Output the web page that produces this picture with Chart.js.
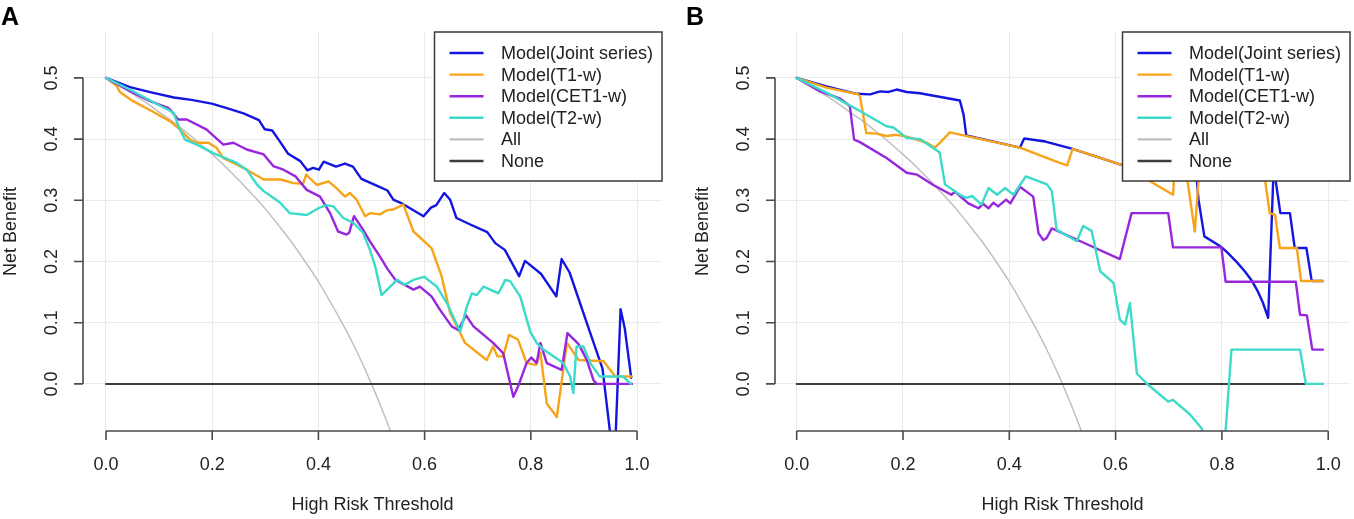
<!DOCTYPE html>
<html>
<head>
<meta charset="utf-8">
<title>Decision curves</title>
<script src="https://cdn.jsdelivr.net/npm/chart.js@4.4.1/dist/chart.umd.min.js"></script>
<style>
  html, body { margin: 0; padding: 0; background: #fff; }
  #wrap { position: relative; width: 1354px; height: 519px; }
  .panel { position: absolute; top: 0; width: 677px; height: 519px; }
</style>
</head>
<body>
<div id="wrap">
  <div class="panel" style="left:0"><canvas id="chartA" width="677" height="519"></canvas></div>
  <div class="panel" style="left:677px"><canvas id="chartB" width="677" height="519"></canvas></div>
</div>
<script>
// axis ticks
var xTicks = [0, 0.2, 0.4, 0.6, 0.8, 1.0];
var xTickLabels = ['0.0', '0.2', '0.4', '0.6', '0.8', '1.0'];
var yTicks = [0, 0.1, 0.2, 0.3, 0.4, 0.5];
var yTickLabels = ['0.0', '0.1', '0.2', '0.3', '0.4', '0.5'];

// legend entries
var seriesNames = ['Model(Joint series)', 'Model(T1-w)', 'Model(CET1-w)', 'Model(T2-w)', 'All', 'None'];
var seriesColors = ['#1416e0', '#f7a41a', '#9726dc', '#3cdac9', '#bebebe', '#3c3c3c'];

// reference curves (same in both panels)
var allCurve = [[0, 0.5], [0.025, 0.487], [0.05, 0.474], [0.075, 0.460], [0.1, 0.444], [0.125, 0.429],
  [0.15, 0.412], [0.175, 0.394], [0.2, 0.375], [0.225, 0.355], [0.25, 0.333], [0.275, 0.310],
  [0.3, 0.286], [0.325, 0.259], [0.35, 0.231], [0.375, 0.200], [0.4, 0.167], [0.425, 0.130],
  [0.45, 0.091], [0.475, 0.048], [0.5, 0.0], [0.525, -0.053], [0.55, -0.111]];
var noneCurve = [[0, 0], [0.99, 0]];

// panel A: [threshold, net benefit]
var jointA = [[0, 0.5], [0.045, 0.485], [0.087, 0.476], [0.128, 0.468], [0.161, 0.464], [0.199, 0.458],
  [0.226, 0.451], [0.259, 0.442], [0.288, 0.431], [0.299, 0.416], [0.313, 0.414], [0.326, 0.398],
  [0.343, 0.376], [0.366, 0.364], [0.379, 0.349], [0.39, 0.353], [0.401, 0.350], [0.41, 0.363],
  [0.433, 0.355], [0.45, 0.360], [0.465, 0.355], [0.481, 0.335], [0.515, 0.322], [0.53, 0.316],
  [0.541, 0.301], [0.559, 0.294], [0.598, 0.274], [0.612, 0.288], [0.622, 0.292], [0.637, 0.312],
  [0.648, 0.301], [0.66, 0.271], [0.687, 0.260], [0.718, 0.248], [0.733, 0.230], [0.751, 0.219],
  [0.778, 0.176], [0.789, 0.201], [0.819, 0.180], [0.848, 0.143], [0.858, 0.204], [0.873, 0.182],
  [0.91, 0.088], [0.935, 0.025], [0.952, -0.1], [0.959, -0.1], [0.969, 0.122], [0.977, 0.090],
  [0.989, 0.010]];
var t1A = [[0, 0.5], [0.02, 0.487], [0.026, 0.477], [0.051, 0.462], [0.086, 0.446], [0.121, 0.429],
  [0.139, 0.416], [0.158, 0.399], [0.171, 0.394], [0.193, 0.394], [0.208, 0.386], [0.221, 0.369],
  [0.240, 0.361], [0.265, 0.350], [0.297, 0.334], [0.329, 0.334], [0.353, 0.328], [0.371, 0.327],
  [0.377, 0.342], [0.397, 0.325], [0.419, 0.331], [0.434, 0.320], [0.45, 0.306], [0.459, 0.312],
  [0.472, 0.301], [0.488, 0.274], [0.497, 0.279], [0.516, 0.277], [0.53, 0.284], [0.541, 0.285],
  [0.56, 0.293], [0.579, 0.249], [0.613, 0.222], [0.632, 0.176], [0.648, 0.116], [0.67, 0.078],
  [0.676, 0.067], [0.717, 0.039], [0.729, 0.061], [0.737, 0.045], [0.748, 0.045], [0.759, 0.080],
  [0.776, 0.072], [0.792, 0.034], [0.81, 0.031], [0.818, 0.051], [0.83, -0.032], [0.849, -0.054],
  [0.868, 0.067], [0.89, 0.039], [0.937, 0.037], [0.959, 0.012], [0.99, 0.012]];
var cet1A = [[0, 0.5], [0.051, 0.476], [0.083, 0.462], [0.117, 0.451], [0.123, 0.446], [0.136, 0.432],
  [0.152, 0.432], [0.189, 0.416], [0.221, 0.391], [0.24, 0.394], [0.265, 0.383], [0.297, 0.375],
  [0.315, 0.356], [0.334, 0.350], [0.357, 0.339], [0.378, 0.317], [0.403, 0.306], [0.422, 0.279],
  [0.437, 0.249], [0.453, 0.244], [0.458, 0.247], [0.467, 0.274], [0.484, 0.252], [0.497, 0.233],
  [0.516, 0.208], [0.53, 0.188], [0.545, 0.170], [0.56, 0.163], [0.579, 0.154], [0.591, 0.159],
  [0.613, 0.143], [0.629, 0.121], [0.651, 0.094], [0.663, 0.088], [0.678, 0.112], [0.692, 0.094],
  [0.729, 0.067], [0.748, 0.050], [0.767, -0.021], [0.776, -0.004], [0.792, 0.034], [0.801, 0.043],
  [0.811, 0.034], [0.818, 0.067], [0.83, 0.034], [0.858, 0.023], [0.869, 0.083], [0.89, 0.065],
  [0.905, 0.040], [0.918, 0.006], [0.924, 0], [0.99, 0]];
var t2A = [[0, 0.5], [0.045, 0.481], [0.092, 0.459], [0.117, 0.448], [0.127, 0.443], [0.139, 0.416],
  [0.149, 0.399], [0.171, 0.391], [0.202, 0.377], [0.246, 0.361], [0.265, 0.350], [0.284, 0.326],
  [0.297, 0.315], [0.315, 0.304], [0.328, 0.296], [0.346, 0.279], [0.378, 0.276], [0.400, 0.287],
  [0.415, 0.292], [0.428, 0.290], [0.447, 0.271], [0.466, 0.263], [0.484, 0.247], [0.497, 0.219],
  [0.507, 0.192], [0.519, 0.145], [0.548, 0.170], [0.563, 0.162], [0.579, 0.170], [0.599, 0.175],
  [0.623, 0.159], [0.642, 0.132], [0.667, 0.085], [0.679, 0.125], [0.689, 0.148], [0.698, 0.145],
  [0.711, 0.159], [0.739, 0.148], [0.752, 0.170], [0.761, 0.168], [0.78, 0.143], [0.799, 0.085],
  [0.811, 0.067], [0.824, 0.056], [0.861, 0.034], [0.874, 0.012], [0.88, -0.015], [0.886, 0.061],
  [0.899, 0.061], [0.912, 0.034], [0.93, 0.012], [0.974, 0.012], [0.988, 0]];

// panel B
var jointB = [[0, 0.5], [0.056, 0.486], [0.113, 0.474], [0.138, 0.473], [0.157, 0.478], [0.173, 0.477],
  [0.188, 0.481], [0.207, 0.477], [0.232, 0.475], [0.263, 0.470], [0.307, 0.463], [0.314, 0.440],
  [0.319, 0.406], [0.42, 0.386], [0.428, 0.401], [0.468, 0.396], [0.519, 0.384], [0.614, 0.357],
  [0.65, 0.36], [0.75, 0.36], [0.756, 0.301], [0.767, 0.241], [0.797, 0.225], [0.81, 0.215],
  [0.828, 0.199], [0.843, 0.184], [0.856, 0.169], [0.867, 0.152], [0.877, 0.133], [0.887, 0.108],
  [0.897, 0.345], [0.899, 0.345], [0.910, 0.279], [0.928, 0.279], [0.937, 0.222], [0.959, 0.222],
  [0.969, 0.168], [0.99, 0.168]];
var t1B = [[0, 0.5], [0.056, 0.484], [0.116, 0.473], [0.119, 0.470], [0.131, 0.410], [0.150, 0.409],
  [0.169, 0.405], [0.188, 0.407], [0.207, 0.404], [0.245, 0.394], [0.260, 0.386], [0.273, 0.397],
  [0.288, 0.411], [0.314, 0.406], [0.42, 0.386], [0.495, 0.361], [0.509, 0.357], [0.519, 0.384],
  [0.614, 0.357], [0.708, 0.309], [0.711, 0.35], [0.733, 0.345], [0.749, 0.249], [0.757, 0.345],
  [0.88, 0.34], [0.89, 0.279], [0.9, 0.276], [0.909, 0.222], [0.941, 0.222], [0.949, 0.168],
  [0.99, 0.168]];
var cet1B = [[0, 0.5], [0.044, 0.478], [0.082, 0.466], [0.100, 0.454], [0.108, 0.399], [0.119, 0.395],
  [0.169, 0.369], [0.207, 0.345], [0.226, 0.342], [0.257, 0.325], [0.291, 0.309], [0.298, 0.314],
  [0.323, 0.295], [0.342, 0.287], [0.351, 0.294], [0.361, 0.287], [0.370, 0.296], [0.379, 0.290],
  [0.394, 0.301], [0.402, 0.295], [0.420, 0.322], [0.445, 0.306], [0.455, 0.246], [0.464, 0.235],
  [0.470, 0.238], [0.480, 0.254], [0.539, 0.231], [0.608, 0.204], [0.630, 0.279], [0.699, 0.279],
  [0.708, 0.223], [0.799, 0.223], [0.807, 0.167], [0.939, 0.167], [0.947, 0.113], [0.960, 0.112],
  [0.970, 0.056], [0.99, 0.056]];
var t2B = [[0, 0.5], [0.056, 0.476], [0.119, 0.446], [0.169, 0.421], [0.182, 0.419], [0.207, 0.402],
  [0.232, 0.400], [0.269, 0.378], [0.279, 0.326], [0.307, 0.309], [0.320, 0.304], [0.330, 0.307],
  [0.348, 0.293], [0.361, 0.320], [0.377, 0.309], [0.392, 0.320], [0.408, 0.309], [0.431, 0.339],
  [0.471, 0.326], [0.480, 0.315], [0.489, 0.252], [0.527, 0.233], [0.539, 0.258], [0.555, 0.250],
  [0.571, 0.184], [0.596, 0.165], [0.608, 0.105], [0.618, 0.097], [0.627, 0.132], [0.640, 0.017],
  [0.658, 0.001], [0.699, -0.029], [0.708, -0.026], [0.740, -0.050], [0.762, -0.073], [0.775, -0.1],
  [0.805, -0.1], [0.818, 0.056], [0.947, 0.056], [0.958, 0], [0.99, 0]];

var FONT = "'Liberation Sans', Arial, Helvetica, sans-serif";

function toPoints(arr) {
  return arr.map(function (p) { return { x: p[0], y: p[1] }; });
}

// R-like axes, labels and legend box drawn on top of the Chart.js grid
function rStyle(cfg) {
  return {
    id: 'rStyle',
    afterDraw: function (chart) {
      var ctx = chart.ctx;
      var xs = chart.scales.x, ys = chart.scales.y;
      var area = chart.chartArea;
      ctx.save();
      ctx.strokeStyle = '#4a4a4a';
      ctx.lineWidth = 1.6;
      ctx.lineCap = 'butt';

      // y axis
      var yx = area.left;
      ctx.beginPath();
      ctx.moveTo(yx, ys.getPixelForValue(yTicks[0]));
      ctx.lineTo(yx, ys.getPixelForValue(yTicks[yTicks.length - 1]));
      yTicks.forEach(function (v) {
        var py = ys.getPixelForValue(v);
        ctx.moveTo(yx, py);
        ctx.lineTo(yx - 9, py);
      });
      ctx.stroke();

      // x axis
      var xy = area.bottom;
      ctx.beginPath();
      ctx.moveTo(xs.getPixelForValue(xTicks[0]), xy);
      ctx.lineTo(xs.getPixelForValue(xTicks[xTicks.length - 1]), xy);
      xTicks.forEach(function (v) {
        var px = xs.getPixelForValue(v);
        ctx.moveTo(px, xy);
        ctx.lineTo(px, xy + 9);
      });
      ctx.stroke();

      ctx.fillStyle = '#222';
      ctx.font = '18px ' + FONT;
      ctx.textAlign = 'center';
      ctx.textBaseline = 'alphabetic';
      xTicks.forEach(function (v, i) {
        ctx.fillText(xTickLabels[i], xs.getPixelForValue(v), xy + 39);
      });
      yTicks.forEach(function (v, i) {
        ctx.save();
        ctx.translate(yx - 26, ys.getPixelForValue(v));
        ctx.rotate(-Math.PI / 2);
        ctx.fillText(yTickLabels[i], 0, 0);
        ctx.restore();
      });

      // axis titles
      ctx.fillText('High Risk Threshold', (area.left + area.right) / 2, xy + 79);
      ctx.save();
      ctx.translate(yx - 67, (area.top + area.bottom) / 2);
      ctx.rotate(-Math.PI / 2);
      ctx.fillText('Net Benefit', 0, 0);
      ctx.restore();

      // panel letter
      ctx.fillStyle = '#000';
      ctx.font = 'bold 25px ' + FONT;
      ctx.textAlign = 'left';
      ctx.fillText(cfg.letter, cfg.letterX, 25);

      // legend (topright, white box)
      var w = 227.5, h = 149;
      var lx = area.right - w, ly = area.top;
      ctx.fillStyle = '#fff';
      ctx.fillRect(lx, ly, w, h);
      ctx.strokeStyle = '#3a3a3a';
      ctx.lineWidth = 1.5;
      ctx.strokeRect(lx, ly, w, h);
      ctx.font = '18px ' + FONT;
      ctx.textBaseline = 'middle';
      seriesNames.forEach(function (name, i) {
        var ry = ly + 21 + i * 21.6;
        ctx.strokeStyle = seriesColors[i];
        ctx.lineWidth = 2.4;
        ctx.beginPath();
        ctx.moveTo(lx + 15, ry);
        ctx.lineTo(lx + 49, ry);
        ctx.stroke();
        ctx.fillStyle = '#222';
        ctx.fillText(name, lx + 66.5, ry + 1);
      });
      ctx.restore();
    }
  };
}

function makePanel(canvasId, curves, cfg) {
  var series = [curves.joint, curves.t1, curves.cet1, curves.t2, allCurve, noneCurve];
  var widths = [2.4, 2.4, 2.4, 2.4, 1.4, 2];
  var orders = [4, 3, 2, 1, 6, 5];
  var datasets = series.map(function (s, i) {
    return {
      label: seriesNames[i],
      data: toPoints(s),
      borderColor: seriesColors[i],
      borderWidth: widths[i],
      borderJoinStyle: 'round',
      borderCapStyle: 'round',
      pointRadius: 0,
      fill: false,
      tension: i === 4 ? 0.3 : 0,
      order: orders[i],
      clip: 0
    };
  });

  return new Chart(document.getElementById(canvasId).getContext('2d'), {
    type: 'line',
    data: { datasets: datasets },
    options: {
      responsive: false,
      animation: false,
      events: [],
      layout: { padding: cfg.padding },
      plugins: { legend: { display: false }, tooltip: { enabled: false } },
      scales: {
        x: {
          type: 'linear',
          min: cfg.xMin,
          max: cfg.xMax,
          afterBuildTicks: function (scale) {
            scale.ticks = xTicks.map(function (v) { return { value: v }; });
          },
          afterFit: function (scale) { scale.height = 0; },
          ticks: { display: false },
          border: { display: false },
          grid: { color: '#eaeaea', lineWidth: 1, drawTicks: false }
        },
        y: {
          type: 'linear',
          min: -0.077,
          max: 0.575,
          afterBuildTicks: function (scale) {
            scale.ticks = yTicks.map(function (v) { return { value: v }; });
          },
          afterFit: function (scale) { scale.width = 0; },
          ticks: { display: false },
          border: { display: false },
          grid: { color: '#eaeaea', lineWidth: 1, drawTicks: false }
        }
      }
    },
    plugins: [rStyle(cfg)]
  });
}

makePanel('chartA', { joint: jointA, t1: t1A, cet1: cet1A, t2: t2A }, {
  letter: 'A', letterX: 1,
  padding: { left: 83, right: 15, top: 32, bottom: 88 },
  xMin: -0.0433, xMax: 1.047
});
makePanel('chartB', { joint: jointB, t1: t1B, cet1: cet1B, t2: t2B }, {
  letter: 'B', letterX: 9,
  padding: { left: 98, right: 4, top: 32, bottom: 88 },
  xMin: -0.0408, xMax: 1.041
});
</script>
</body>
</html>
